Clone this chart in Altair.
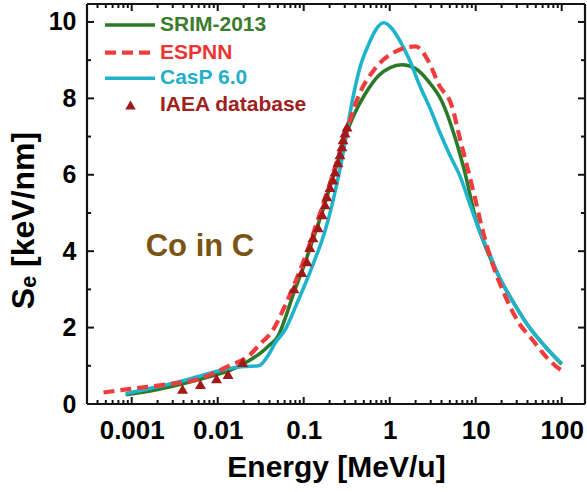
import altair as alt
import pandas as pd

# ---------------- data ----------------
srim_E = [0.00085, 0.002, 0.0046, 0.01, 0.0135, 0.023, 0.03, 0.039, 0.051, 0.06, 0.075, 0.1, 0.13,
          0.16, 0.2, 0.25, 0.31, 0.4, 0.52, 0.745, 1.0, 1.39, 2.0, 2.84, 4.05, 5.8, 7.5, 10, 13.4,
          18.5, 29, 41, 64.5, 100]
srim_S = [0.24, 0.38, 0.57, 0.78, 0.87, 1.13, 1.3, 1.52, 1.8, 2.2, 2.85, 3.6, 4.35,
          4.95, 5.65, 6.35, 7.05, 7.65, 8.12, 8.6, 8.8, 8.88, 8.78, 8.44, 7.92, 6.95, 6.05, 4.85, 4.05,
          3.35, 2.57, 2.04, 1.5, 1.04]

espnn_E = [0.00047, 0.00092, 0.0027, 0.006, 0.0135, 0.023, 0.032, 0.042, 0.06, 0.08, 0.1, 0.15,
           0.2, 0.3, 0.44, 0.68, 1.16, 1.99, 2.84, 3.72, 5.3, 6.6, 8.3, 9.9, 11.8, 15.5, 22, 31.6,
           45, 64.5, 84.5, 100]
espnn_S = [0.30, 0.39, 0.52, 0.65, 1.0, 1.26, 1.6, 1.87, 2.55, 3.2, 3.75, 4.9,
           5.75, 7.0, 8.09, 8.79, 9.22, 9.36, 8.96, 8.36, 7.79, 6.92, 6.05, 5.35, 4.62, 3.7, 2.83, 2.13,
           1.70, 1.26, 1.0, 0.88]

casp_E = [0.00085, 0.002, 0.0046, 0.0123, 0.02, 0.03, 0.038, 0.047, 0.061, 0.084, 0.126, 0.179,
          0.234, 0.3, 0.365, 0.45, 0.57, 0.7, 0.85, 1.06, 1.32, 1.74, 2.22, 2.93, 3.84, 5.04, 6.6,
          8.66, 11.4, 14.1, 18.5, 29, 41, 64.5, 100]
casp_S = [0.27, 0.45, 0.65, 0.91, 0.98, 1.0, 1.25, 1.61, 1.95, 2.65, 3.61, 4.57,
          5.6, 6.8, 7.9, 8.8, 9.42, 9.82, 9.98, 9.83, 9.5, 8.95, 8.35, 7.75, 7.1, 6.5, 5.95,
          5.2, 4.45, 4.0, 3.35, 2.57, 2.04, 1.5, 1.06]

iaea_E = [0.0039, 0.0063, 0.0097, 0.0132, 0.0195, 0.077, 0.095, 0.109, 0.118, 0.128, 0.147, 0.164,
          0.177, 0.186, 0.202, 0.219, 0.231, 0.25, 0.264, 0.278, 0.287, 0.302, 0.319]
iaea_S = [0.39, 0.52, 0.67, 0.78, 1.09, 3.02, 3.45, 3.73, 4.1, 4.36, 4.62, 4.96,
          5.22, 5.43, 5.67, 5.87, 6.08, 6.32, 6.53, 6.74, 6.92, 7.10, 7.26]

x_major = [0.001, 0.01, 0.1, 1, 10, 100]
x_minor = [m * 10.0 ** k for k in range(-4, 3) for m in range(2, 10) if 0.00031 <= m * 10.0 ** k <= 186]
y_major = [0, 2, 4, 6, 8, 10]
y_minor = [1, 3, 5, 7, 9]

series_names = ["SRIM-2013", "ESPNN", "CasP 6.0", "IAEA database"]
series_colors = ["#2b7a2b", "#f03c3c", "#1fb4cc", "#a31818"]
legend_text_colors = ["#3a7d2c", "#ec3434", "#22b0c8", "#a02020"]
INK = "#141414"

# ---------------- layout ----------------
W, H = 498, 400
FONT = "Liberation Sans"
X_LO, X_HI = 0.000302, 186.6
Y_LO, Y_HI = 0.0, 10.47
PX_PER_DECADE = W / (2.271 + 3.52)
PX_PER_UNIT = H / (Y_HI - Y_LO)

xs = alt.Scale(type="log", domain=[X_LO, X_HI], nice=False)
ys = alt.Scale(domain=[Y_LO, Y_HI], nice=False, zero=False)

x_axis = alt.Axis(values=x_major, ticks=False, tickSize=0, domain=False, grid=False,
                  labelExpr="datum.value < 1 ? format(datum.value, '.3~f') : format(datum.value, 'd')",
                  labelFontSize=26, labelFontWeight="bold", labelPadding=13, labelFlush=False,
                  title="Energy [MeV/u]", titleFontSize=30, titleFontWeight="bold",
                  titleBaseline="middle", titleY=63, titleX=W / 2)
y_axis = alt.Axis(values=y_major, ticks=False, tickSize=0, domain=False, grid=False,
                  labelFontSize=25, labelFontWeight="bold", labelPadding=11,
                  title="Sₑ [keV/nm]", titleFontSize=32, titleFontWeight="bold",
                  titleBaseline="middle", titleX=-64, titleY=216, titleAngle=270)


def line_layer(E, S, color, dash=None, width=3.6):
    df = pd.DataFrame({"E": E, "S": S})
    kw = dict(color=color, strokeWidth=width, interpolate="monotone")
    if dash:
        kw["strokeDash"] = dash
    return alt.Chart(df).mark_line(**kw).encode(
        x=alt.X("E:Q", scale=xs, axis=x_axis), y=alt.Y("S:Q", scale=ys, axis=y_axis))


srim = line_layer(srim_E, srim_S, series_colors[0])
espnn = line_layer(espnn_E, espnn_S, series_colors[1], dash=[11, 6], width=4.2)
casp = line_layer(casp_E, casp_S, series_colors[2])

iaea = alt.Chart(pd.DataFrame({"E": iaea_E, "S": iaea_S})).mark_point(
    shape="triangle-up", filled=True, size=120, color=series_colors[3], opacity=1
).encode(x=alt.X("E:Q", scale=xs), y=alt.Y("S:Q", scale=ys))

label_df = pd.DataFrame({"E": [0.00622], "S": [4.11], "t": ["Co in C"]})
label = alt.Chart(label_df).mark_text(
    font=FONT, fontSize=31, fontWeight="bold", color="#7b5312", align="center", baseline="middle"
).encode(x=alt.X("E:Q", scale=xs), y=alt.Y("S:Q", scale=ys), text="t:N")


# ---------------- frame ticks (inward), placed through the scales ----------------
def xticks(values, length):
    df = pd.DataFrame({"xt": values})
    d = length / PX_PER_UNIT
    base = alt.Chart(df).mark_rule(color=INK, strokeWidth=2, opacity=1)
    return [
        base.encode(x=alt.X("xt:Q", scale=xs), y=alt.datum(Y_LO), y2=alt.datum(Y_LO + d)),
        base.encode(x=alt.X("xt:Q", scale=xs), y=alt.datum(Y_HI), y2=alt.datum(Y_HI - d)),
    ]


def yticks(values, length):
    df = pd.DataFrame({"yt": values})
    f = 10 ** (length / PX_PER_DECADE)
    base = alt.Chart(df).mark_rule(color=INK, strokeWidth=2, opacity=1)
    return [
        base.encode(y=alt.Y("yt:Q", scale=ys), x=alt.datum(X_LO), x2=alt.datum(X_LO * f)),
        base.encode(y=alt.Y("yt:Q", scale=ys), x=alt.datum(X_HI / f), x2=alt.datum(X_HI)),
    ]


ticks = xticks(x_major, 7) + xticks(x_minor, 4) + yticks(y_major, 7) + yticks(y_minor, 4)

# ---------------- frame (box round the plot area) ----------------
one = alt.Data(values=[{"a": 1}])
frame = [
    alt.Chart(one).mark_rule(color=INK, strokeWidth=2.2).encode(x=alt.value(0), x2=alt.value(W), y=alt.value(0)),
    alt.Chart(one).mark_rule(color=INK, strokeWidth=2.2).encode(x=alt.value(0), x2=alt.value(W), y=alt.value(H)),
    alt.Chart(one).mark_rule(color=INK, strokeWidth=2.2).encode(y=alt.value(0), y2=alt.value(H), x=alt.value(0)),
    alt.Chart(one).mark_rule(color=INK, strokeWidth=2.2).encode(y=alt.value(0), y2=alt.value(H), x=alt.value(W)),
]

# ---------------- legend (drawn inside the plot, top-left) ----------------
leg_y = [21, 48.7, 74.3, 101]
legend_layers = []
legend_layers.append(alt.Chart(one).mark_rule(color=series_colors[0], strokeWidth=3.6).encode(
    x=alt.value(18), x2=alt.value(68), y=alt.value(leg_y[0])))
legend_layers.append(alt.Chart(one).mark_rule(color=series_colors[1], strokeWidth=4.2, strokeDash=[11, 6]).encode(
    x=alt.value(18), x2=alt.value(68), y=alt.value(leg_y[1])))
legend_layers.append(alt.Chart(one).mark_rule(color=series_colors[2], strokeWidth=3.6).encode(
    x=alt.value(18), x2=alt.value(68), y=alt.value(leg_y[2])))
legend_layers.append(alt.Chart(one).mark_point(shape="triangle-up", filled=True, size=110,
                                               color=series_colors[3], opacity=1).encode(
    x=alt.value(43.5), y=alt.value(leg_y[3])))
for name, col, yy in zip(series_names, legend_text_colors, leg_y):
    legend_layers.append(alt.Chart(one).mark_text(
        font=FONT, fontSize=21, fontWeight="bold", color=col, align="left", baseline="middle"
    ).encode(x=alt.value(73), y=alt.value(yy), text=alt.value(name)))

chart = alt.layer(
    srim, casp, espnn, iaea, label, *ticks, *frame, *legend_layers
).properties(
    width=W, height=H,
    autosize=alt.AutoSizeParams(type="none"),
    padding={"left": 87, "top": 4, "right": 2, "bottom": 88},
).configure_view(
    strokeWidth=0
).configure_axis(
    labelFont=FONT, titleFont=FONT, labelColor="black", titleColor="black"
).configure(background="white")

chart.save("out.html", embed_options={"renderer": "svg", "actions": False})
